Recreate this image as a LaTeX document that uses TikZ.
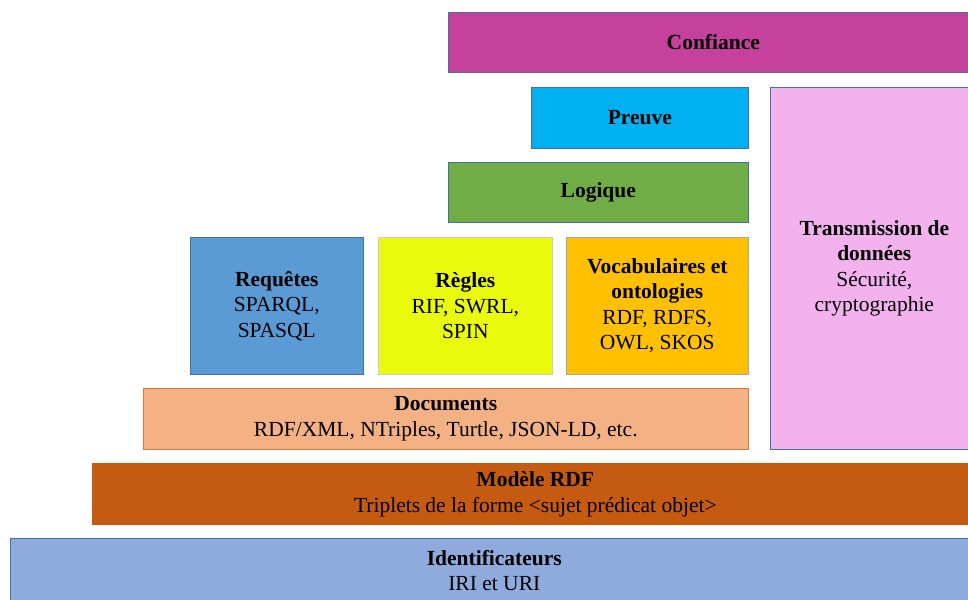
\documentclass[tikz,border=0pt]{standalone}
\usepackage{fontspec}
\setmainfont{Liberation Serif}
\usetikzlibrary{positioning}
\definecolor{Trust}{RGB}{197, 65, 155}
\definecolor{Proof}{RGB}{0, 176, 240}
\definecolor{Logic}{RGB}{112, 173, 71}
\definecolor{Crypto}{RGB}{243, 178, 238}
\definecolor{Query}{RGB}{91, 155, 213}
\definecolor{Rules}{RGB}{234, 250, 12}
\definecolor{Onto}{RGB}{255, 192, 0}
\definecolor{Docs}{RGB}{244, 177, 131}
\definecolor{Model}{RGB}{197, 90, 17}
\definecolor{Ident}{RGB}{143, 170, 220}
\definecolor{Edge}{RGB}{65, 113, 156}
\tikzstyle{layer} = [rectangle, anchor=north west, inner sep=0pt, draw=Edge, line width=0.6pt, align=center, font=\fontsize{21.5}{25.5}\selectfont]

\begin{document}
\begin{tikzpicture}[x=1pt, y=-1pt]
\useasboundingbox (0,0) rectangle (968,599);
\clip (0,0) rectangle (968,599);

% Upper layers
\node (trust) [layer, fill=Trust, minimum width=530pt, minimum height=60pt] at (448,12) {\textbf{Confiance}};
\node (proof) [layer, fill=Proof, minimum width=217pt, minimum height=61pt] at (531,87) {\textbf{Preuve}};
\node (logic) [layer, fill=Logic, minimum width=300pt, minimum height=60pt] at (448,162) {\textbf{Logique}};
\node (crypto) [layer, fill=Crypto, minimum width=208pt, minimum height=362pt] at (770,87) {\textbf{Transmission de}\\\textbf{données}\\Sécurité,\\cryptographie};

% Middle layers
\node (query) [layer, fill=Query, minimum width=173pt, minimum height=137pt] at (190,237) {\textbf{Requêtes}\\SPARQL,\\SPASQL};
\node (rules) [layer, fill=Rules, draw=black!20, minimum width=174pt, minimum height=137pt] at (378,237) {\textbf{Règles}\\RIF, SWRL,\\SPIN};
\node (onto) [layer, fill=Onto, draw=black!35, minimum width=182pt, minimum height=137pt] at (566,237) {\textbf{Vocabulaires et}\\\textbf{ontologies}\\RDF, RDFS,\\OWL, SKOS};
\node (docs) [layer, fill=Docs, draw=Model!80, minimum width=605pt, minimum height=61pt] at (143,388) {\textbf{Documents}\\RDF/XML, NTriples, Turtle, JSON-LD, etc.};

% Base layers
\node (model) [layer, fill=Model, draw=none, minimum width=886pt, minimum height=62pt] at (92,463) {\textbf{Modèle RDF}\\Triplets de la forme <sujet prédicat objet>};
\node (ident) [layer, fill=Ident, minimum width=968pt, minimum height=64pt] at (10,538) {\textbf{Identificateurs}\\IRI et URI};

\end{tikzpicture}
\end{document}
